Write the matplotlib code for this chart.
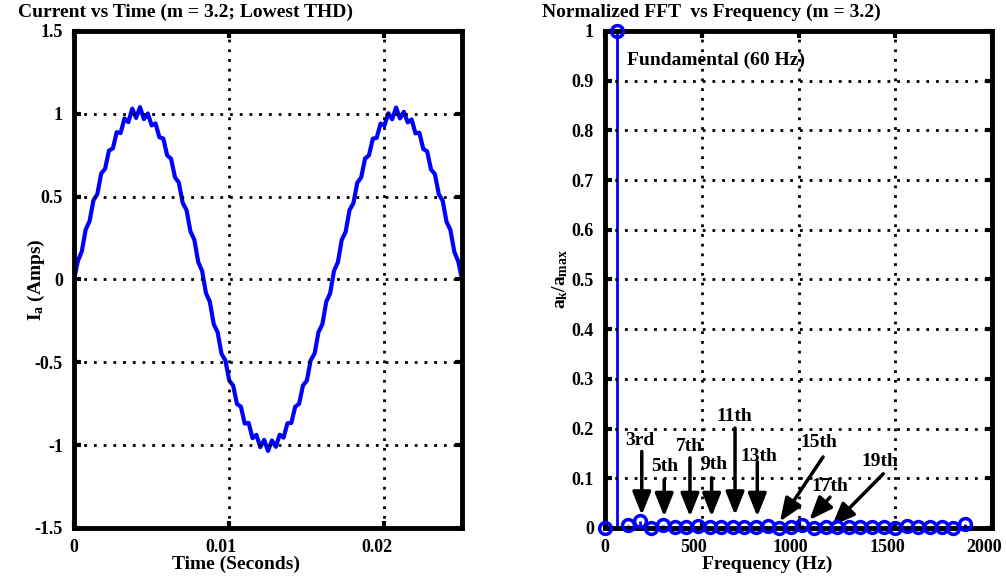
import numpy as np
import matplotlib
matplotlib.use("Agg")
import matplotlib.pyplot as plt
from matplotlib.transforms import ScaledTranslation

plt.rcParams['font.family'] = ['Liberation Serif', 'DejaVu Serif']
plt.rcParams['font.weight'] = 'bold'
plt.rcParams['mathtext.fontset'] = 'custom'
plt.rcParams['mathtext.rm'] = 'Liberation Serif:bold'
plt.rcParams['mathtext.it'] = 'Liberation Serif:bold'
plt.rcParams['mathtext.bf'] = 'Liberation Serif:bold'

# current samples (Amps), 0 .. 0.025 s
current = [
    0.000, 0.112, 0.170, 0.301, 0.352, 0.478, 0.515, 0.640, 0.668, 0.778,
    0.791, 0.889, 0.884, 0.972, 0.950, 1.031, 0.975, 1.040, 0.968, 1.002,
    0.930, 0.942, 0.858, 0.851, 0.749, 0.729, 0.618, 0.585, 0.463, 0.418,
    0.290, 0.240, 0.106, 0.052, -0.082, -0.135, -0.270, -0.318, -0.448, -0.488,
    -0.610, -0.640, -0.752, -0.768, -0.870, -0.866, -0.958, -0.938, -1.012, -0.968,
    -1.035, -0.972, -1.010, -0.937, -0.955, -0.868, -0.866, -0.768, -0.751, -0.640,
    -0.610, -0.487, -0.447, -0.318, -0.270, -0.135, -0.084, 0.052, 0.104, 0.240,
    0.288, 0.419, 0.461, 0.584, 0.616, 0.730, 0.749, 0.850, 0.855, 0.941,
    0.929, 1.003, 0.967, 1.038, 0.972, 1.012, 0.948, 0.966, 0.882, 0.886,
    0.788, 0.773, 0.664, 0.636, 0.515, 0.476, 0.348, 0.299, 0.168, 0.110,
    0.000,
]
time_s = np.linspace(0, 0.025, len(current))

# normalized FFT magnitudes, one per 60 Hz harmonic (k = 0 .. 31)
freq_hz = [60 * k for k in range(32)]
fft_norm = [
    0.000, 1.000, 0.006, 0.014, 0.000, 0.006, 0.001, 0.001, 0.003, 0.001,
    0.001, 0.001, 0.001, 0.001, 0.003, 0.000, 0.001, 0.006, 0.000, 0.001,
    0.001, 0.001, 0.001, 0.001, 0.001, 0.000, 0.003, 0.001, 0.001, 0.001,
    0.000, 0.007,
]

# harmonic labels: text position, arrow start, arrow tip (Hz, a_k/a_max)
harm_labels = ['3rd', '5th', '7th', '9th', '11th', '13th', '15th', '17th', '19th']
label_x = [178, 307, 434, 566, 667, 796, 1106, 1163, 1419]
label_y = [0.177, 0.123, 0.163, 0.127, 0.224, 0.143, 0.171, 0.083, 0.133]
arrow_x0 = [190, 306, 439, 551, 672, 787, 1127, 1163, 1438]
arrow_y0 = [0.154, 0.097, 0.141, 0.101, 0.201, 0.133, 0.143, 0.062, 0.109]
arrow_x1 = [190, 306, 439, 551, 672, 787, 904, 1056, 1172]
arrow_y1 = [0.026, 0.023, 0.023, 0.023, 0.026, 0.023, 0.013, 0.016, 0.004]

fig = plt.figure(figsize=(10.06, 5.8), dpi=100)
ax1 = fig.add_axes([0.0736, 0.0897, 0.3857, 0.8569])
ax2 = fig.add_axes([0.6014, 0.0897, 0.3847, 0.8569])

def style(ax):
    for s in ax.spines.values():
        s.set_linewidth(3.5)
    ax.tick_params(direction='in', length=5, width=3, top=True, right=True,
                   labelsize=13, pad=8)
    ax.grid(True, color='k', linestyle=(0, (1, 2.5)), linewidth=2)
    ax.set_axisbelow(False)
    shift = ScaledTranslation(-8 / 100, 0, fig.dpi_scale_trans)
    for i, lab in enumerate(ax.get_xticklabels()):
        lab.set_fontweight('bold')
        if i > 0:
            lab.set_transform(lab.get_transform() + shift)
    for lab in ax.get_yticklabels():
        lab.set_fontweight('bold')

# left: current vs time
ax1.plot(time_s, current, color='#0000ff', lw=3)
ax1.set_xlim(0, 0.025)
ax1.set_ylim(-1.5, 1.5)
ax1.set_xticks([0, 0.01, 0.02])
ax1.set_xticklabels(['0', '0.01', '0.02'])
ax1.set_yticks([-1.5, -1, -0.5, 0, 0.5, 1, 1.5])
ax1.set_yticklabels(['-1.5', '-1', '-0.5', '0', '0.5', '1', '1.5'])
style(ax1)
ax1.set_xlabel('Time (Seconds)', fontsize=14, fontweight='bold', labelpad=0)
ax1.xaxis.set_label_coords(0.417, -0.056)
ax1.set_ylabel(r'$I_a$ (Amps)', fontsize=14, fontweight='bold')
ax1.yaxis.set_label_coords(-0.07, 0.5)

# right: normalized FFT
ml, sl, bl = ax2.stem(freq_hz, fft_norm, linefmt='-', markerfmt='o', basefmt=' ')
sl.set_color('#0000ff')
sl.set_linewidth(2)
ml.set_markerfacecolor('none')
ml.set_markeredgecolor('#0000ff')
ml.set_markersize(8.5)
ml.set_markeredgewidth(2.5)
ml.set_clip_on(False)
ml.set_zorder(5)
ax2.set_xlim(0, 2000)
ax2.set_ylim(0, 1)
ax2.set_xticks([0, 500, 1000, 1500, 2000])
ax2.set_yticks(np.round(np.arange(0, 1.01, 0.1), 1))
ax2.set_yticklabels(['0', '0.1', '0.2', '0.3', '0.4', '0.5', '0.6', '0.7', '0.8', '0.9', '1'])
style(ax2)
ax2.set_xlabel('Frequency (Hz)', fontsize=14, fontweight='bold', labelpad=0)
ax2.xaxis.set_label_coords(0.42, -0.056)
ax2.set_ylabel(r'$a_k/a_{max}$', fontsize=14, fontweight='bold')
ax2.yaxis.set_label_coords(-0.09, 0.5)

ax2.text(112, 0.94, 'Fundamental (60 Hz)', fontsize=14, fontweight='bold',
         ha='left', va='center')
for lab, tx, ty, x0, y0, x1, y1 in zip(harm_labels, label_x, label_y,
                                       arrow_x0, arrow_y0, arrow_x1, arrow_y1):
    ax2.text(tx, ty, lab, fontsize=14, fontweight='bold', ha='center', va='center')
    ax2.annotate('', xy=(x1, y1), xytext=(x0, y0),
                 arrowprops=dict(arrowstyle='-|>,head_length=1.0,head_width=0.4',
                                 color='k', lw=2.5, shrinkA=0, shrinkB=0,
                                 mutation_scale=14))

fig.text(186 / 1006, 1 - 12 / 580, 'Current vs Time (m = 3.2; Lowest THD)',
         fontsize=14, fontweight='bold', ha='center', va='center')
fig.text(711 / 1006, 1 - 12 / 580, 'Normalized FFT  vs Frequency (m = 3.2)',
         fontsize=14, fontweight='bold', ha='center', va='center')

fig.savefig('out.png', dpi=100)
